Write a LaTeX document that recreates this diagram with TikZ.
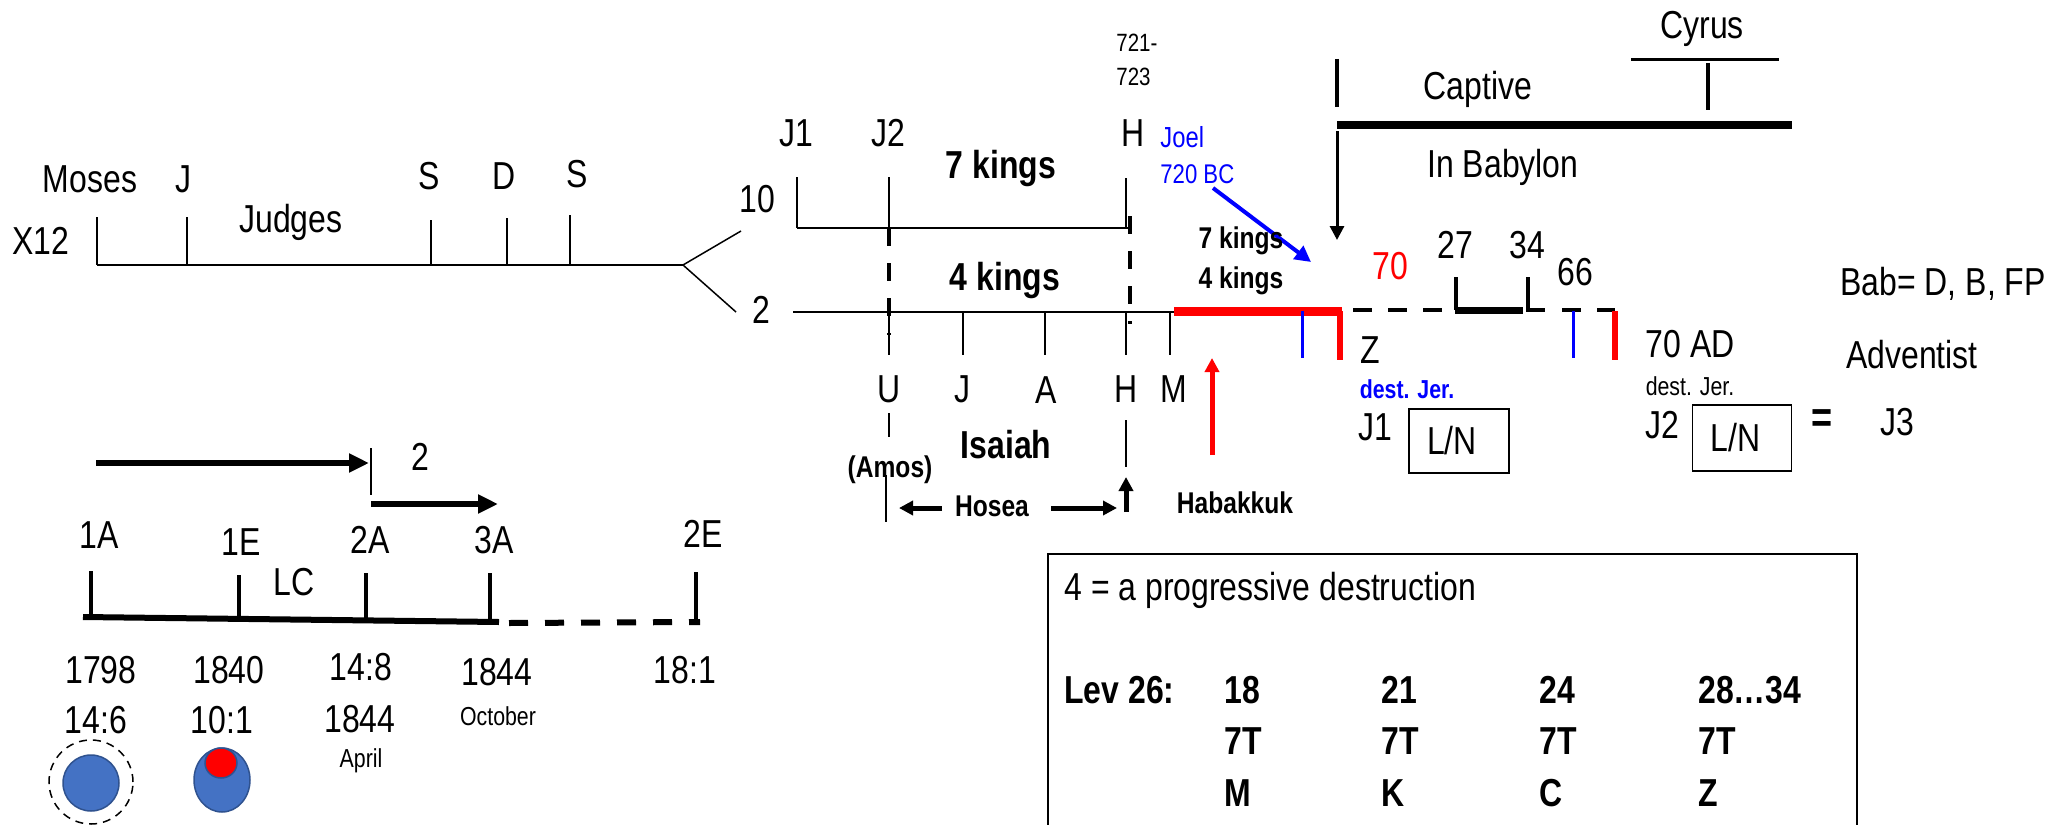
\documentclass[tikz,border=0pt]{standalone}
\usepackage{fontspec}
\setmainfont[FakeStretch=0.82]{Liberation Sans}
\usetikzlibrary{arrows.meta}
\definecolor{slideblue}{HTML}{4472C4}
\definecolor{slideedge}{HTML}{2F528F}
\tikzset{
  lbl/.style={font=\fontsize{19.5}{20}\selectfont, inner sep=0pt, anchor=base},
  lblb/.style={font=\fontsize{19.5}{20}\selectfont\bfseries, inner sep=0pt, anchor=base},
  midb/.style={font=\fontsize{15}{16}\selectfont\bfseries, inner sep=0pt, anchor=base},
  sml/.style={font=\fontsize{13}{14}\selectfont, inner sep=0pt, anchor=base},
  hair/.style={line width=0.75pt},
  dashv/.style={line width=2pt, dash pattern=on 9pt off 8.5pt},
  lnbox/.style={draw, line width=0.75pt, inner ysep=0pt, inner xsep=9pt, text width=32pt, align=left, font=\fontsize{19.5}{20}\selectfont},
  fatarrow/.style={line width=3pt, -{Triangle[length=10pt,width=9pt]}},
  midarrow/.style={line width=2.5pt, -{Triangle[length=7pt,width=7pt]}},
}
\begin{document}
\begin{tikzpicture}[x=0.5pt, y=-0.5pt]
  \useasboundingbox (0,0) rectangle (2059,824);

  %%%%% judges line %%%%%
  \draw[hair] (97,265) -- (683,265);
  \foreach \x/\t in {97/217, 187/217, 431/220, 507/218, 570/215}
    \draw[hair] (\x,\t) -- (\x,265);
  \coordinate (fork) at (683,265);
  \coordinate (forkten) at (741,231);
  \coordinate (forktwo) at (736,312);
  \draw[hair] (fork) -- (forkten);
  \draw[hair] (fork) -- (forktwo);

  \node[lbl] (xtwelve) at (41,254) {X12};
  \node[lbl] (moses) at (90,192) {Moses};
  \node[lbl] (joshua) at (183,192) {J};
  \node[lbl] (judges) at (291,232) {Judges};
  \node[lbl] (saul) at (429,189) {S};
  \node[lbl] (david) at (504,189) {D};
  \node[lbl] (solomon) at (577,187) {S};

  %%%%% ten and two %%%%%
  \node[lbl] (ten) at (757,212) {10};
  \node[lbl] (two) at (761,323) {2};
  \draw[hair] (797,228) -- (1128,228);
  \foreach \x/\t in {797/177, 889/177, 1126/178}
    \draw[hair] (\x,\t) -- (\x,228);
  \draw[hair] (793,312) -- (1174,312);
  \foreach \x in {889, 963, 1045, 1126, 1170}
    \draw[hair] (\x,312) -- (\x,355);
  \draw[dashv] (889,228) -- (889,335);
  \draw[dashv] (1130,216) -- (1130,324);

  \node[lbl] (jone) at (796,147) {J1};
  \node[lbl] (jtwo) at (888,147) {J2};
  \node[lbl] (hezek) at (1133,147) {H};
  \node[font=\fontsize{12.5}{13}\selectfont, inner sep=0pt, anchor=base west] (yra) at (1116,52) {721-};
  \node[font=\fontsize{12.5}{13}\selectfont, inner sep=0pt, anchor=base west] (yrb) at (1116,86) {723};
  \node[lblb] (sevenk) at (1001,178) {7 kings};
  \node[lblb] (fourk) at (1005,290) {4 kings};

  \node[lbl] (uzz) at (889,402) {U};
  \node[lbl] (jot) at (962,402) {J};
  \node[lbl] (ahaz) at (1046,403) {A};
  \node[lbl] (hez) at (1126,402) {H};
  \node[lbl] (man) at (1174,402) {M};
  \draw[hair] (889,413) -- (889,437);
  \draw[hair] (886,475) -- (886,522);
  \draw[hair] (1126,420) -- (1126,467);
  \node[lblb] (isaiah) at (1006,458) {Isaiah};
  \node[midb] (amos) at (890,477) {(Amos)};
  \node[midb] (hosea) at (992,516) {Hosea};
  \node[midb] (habak) at (1235,513) {Habakkuk};
  \coordinate (hosL) at (899,508);
  \coordinate (hosR) at (1117,508);
  \draw[midarrow] (942,508) -- (hosL);
  \draw[midarrow] (1051,508) -- (hosR);
  \draw[midarrow] (1126,512) -- (1126,477);
  \draw[red, midarrow] (1212,455) -- (1212,358);

  %%%%% joel and captivity %%%%%
  \node[blue, font=\fontsize{14.5}{15}\selectfont, inner sep=0pt, anchor=base west] (joel) at (1160,148) {Joel};
  \node[blue, font=\fontsize{13.5}{14}\selectfont, inner sep=0pt, anchor=base west] (joelyr) at (1160,183) {720 BC};
  \coordinate (joeltip) at (1311,262);
  \draw[blue, line width=2pt, -{Triangle[length=8pt,width=8pt]}] (1213,188) -- (joeltip);
  \node[midb] (sevenr) at (1241,248) {7 kings};
  \node[midb] (fourr) at (1241,288) {4 kings};

  \draw[line width=2pt] (1337,59) -- (1337,107);
  \draw[line width=4pt] (1337,125) -- (1792,125);
  \coordinate (captip) at (1337,240);
  \draw[line width=1.5pt, -{Triangle[length=7pt,width=7pt]}] (1337,131) -- (captip);
  \draw[line width=1.5pt] (1631,60) -- (1779,60);
  \draw[line width=2pt] (1708,63) -- (1708,110);
  \node[lbl] (cyrus) at (1702,39) {Cyrus};
  \node[lbl] (captive) at (1478,100) {Captive};
  \node[lbl] (babylon) at (1503,177) {In Babylon};

  \draw[red, line width=4.5pt] (1174,311) -- (1342,311);
  \draw[red, line width=3pt] (1340,311) -- (1340,360);
  \draw[line width=2pt, dash pattern=on 9.5pt off 8pt] (1353,310) -- (1456,310);
  \draw[line width=2pt, dash pattern=on 9.5pt off 8pt] (1562,310) -- (1615,310);
  \draw[line width=2pt] (1456,277) -- (1456,310);
  \draw[line width=3.5pt] (1455,310) -- (1523,310);
  \draw[line width=2pt] (1528,277) -- (1528,310) -- (1545,310);
  \draw[blue, line width=1.5pt] (1302,311) -- (1302,358);
  \draw[blue, line width=1.5pt] (1573,311) -- (1573,358);
  \draw[red, line width=3pt] (1615,311) -- (1615,360);

  \node[lbl, red] (seventy) at (1390,279) {70};
  \node[lbl] (tseven) at (1455,258) {27};
  \node[lbl] (tfour) at (1527,258) {34};
  \node[lbl] (ssix) at (1575,285) {66};
  \node[lbl] (zed) at (1370,363) {Z};
  \node[lbl] (ad) at (1690,357) {70 AD};
  \node[blue, font=\fontsize{13}{14}\selectfont\bfseries, inner sep=0pt, anchor=base] (destone) at (1407,398) {dest. Jer.};
  \node[sml] (desttwo) at (1690,395) {dest. Jer.};
  \node[lbl] (jerone) at (1375,440) {J1};
  \node[lnbox, minimum height=32pt] (lnone) at (1459,441) {L/N};
  \node[lbl] (jertwo) at (1662,438) {J2};
  \node[lnbox, minimum height=33pt, text width=31.5pt] (lntwo) at (1742,438) {L/N};
  \node[font=\fontsize{22}{22}\selectfont\bfseries, inner sep=0pt] (equals) at (1822,421) {=};
  \node[lbl] (jthree) at (1897,435) {J3};
  \node[lbl] (bab) at (1943,295) {Bab= D, B, FP};
  \node[lbl] (advent) at (1912,368) {Adventist};

  %%%%% advent line %%%%%
  \coordinate (firstend) at (369,463);
  \coordinate (secondend) at (498,504);
  \draw[fatarrow] (96,463) -- (firstend);
  \draw[hair] (371,448) -- (371,495);
  \draw[fatarrow] (371,504) -- (secondend);
  \node[lbl] (twoarr) at (420,470) {2};

  \draw[line width=3pt] (83,617) -- (499,622);
  \foreach \x/\t/\b in {91/571/617, 239/575/618, 366/573/620, 490/573/622, 696/572/622}
    \draw[line width=2pt] (\x,\t) -- (\x,\b);
  \draw[line width=3pt, dash pattern=on 9.5pt off 8.5pt] (509,623) -- (700,622);

  \node[lbl] (onea) at (99,548) {1A};
  \node[lbl] (onee) at (241,555) {1E};
  \node[lbl] (twoa) at (370,553) {2A};
  \node[lbl] (threea) at (494,553) {3A};
  \node[lbl] (twoe) at (703,547) {2E};
  \node[lbl] (lc) at (294,595) {LC};

  \node[lbl] (yone) at (101,683) {1798};
  \node[lbl] (ytwo) at (229,683) {1840};
  \node[lbl] (ythree) at (361,680) {14:8};
  \node[lbl] (yfour) at (497,685) {1844};
  \node[lbl] (yfive) at (685,683) {18:1};
  \node[lbl] (vone) at (96,733) {14:6};
  \node[lbl] (vtwo) at (222,733) {10:1};
  \node[lbl] (vthree) at (360,732) {1844};
  \node[sml] (october) at (498,725) {October};
  \node[sml] (april) at (361,767) {April};

  \draw[hair, dash pattern=on 4pt off 3pt] (91,782) circle[radius=21pt];
  \draw[slideedge, fill=slideblue, line width=0.75pt] (91,783) circle[radius=14pt];
  \draw[slideedge, fill=slideblue, line width=0.75pt] (222,780) ellipse[x radius=14pt, y radius=16pt];
  \draw[slideedge, fill=red, line width=0.75pt] (221,763) ellipse[x radius=8pt, y radius=7.5pt];

  %%%%% leviticus box %%%%%
  \draw[hair] (1048,830) -- (1048,554) -- (1857,554) -- (1857,830);
  \node[lbl, anchor=base west] (prog) at (1064,600) {4 = a progressive destruction};
  \node[lblb, anchor=base west] (lev) at (1064,703) {Lev 26:};
  \foreach \x/\v/\l [count=\i] in {1224/18/M, 1381/21/K, 1539/24/C, 1698/28…34/Z} {
    \node[lblb, anchor=base west] (verse\i) at (\x,703) {\v};
    \node[lblb, anchor=base west] (times\i) at (\x,754) {7T};
    \node[lblb, anchor=base west] (curse\i) at (\x,806) {\l};
  }
\end{tikzpicture}
\end{document}
